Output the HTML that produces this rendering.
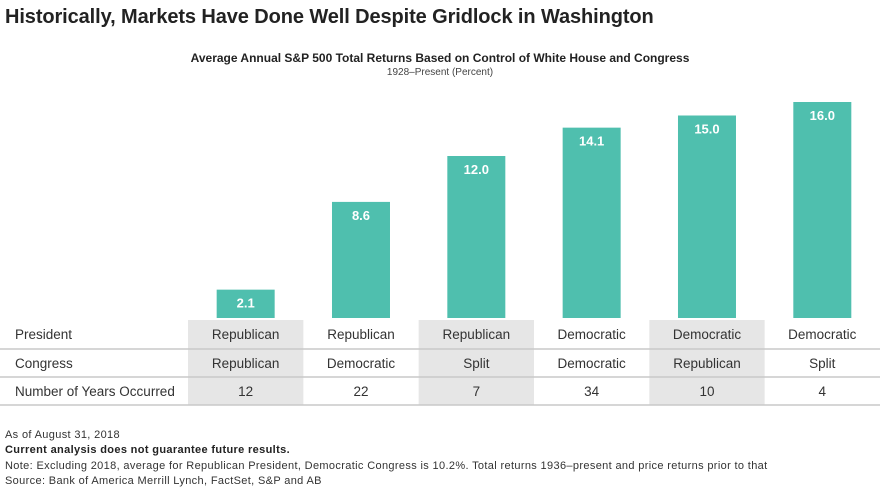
<!DOCTYPE html>
<html><head><meta charset="utf-8"><style>
body{margin:0;width:880px;height:489px;background:#fff;font-family:"Liberation Sans",sans-serif;color:#333;position:relative;overflow:hidden}
.abs{position:absolute}
</style></head><body>
<div class="abs" style="left:5px;top:6px;font-size:20px;font-weight:bold;color:#222;letter-spacing:-0.1px">Historically, Markets Have Done Well Despite Gridlock in Washington</div>
<div class="abs" style="left:0;width:880px;top:51px;text-align:center;font-size:12px;font-weight:bold;color:#222">Average Annual S&amp;P 500 Total Returns Based on Control of White House and Congress</div>
<div class="abs" style="left:0;width:880px;top:67px;text-align:center;font-size:10px;color:#444">1928–Present (Percent)</div>
<svg id="chart" class="abs" style="left:0;top:0" width="880" height="420"></svg>
<div class="abs" style="left:5px;top:428px;font-size:11px;line-height:15.3px;color:#333;letter-spacing:0.35px">
<div>As of August 31, 2018</div>
<div style="font-weight:bold;color:#222">Current analysis does not guarantee future results.</div>
<div>Note: Excluding 2018, average for Republican President, Democratic Congress is 10.2%. Total returns 1936–present and price returns prior to that</div>
<div>Source: Bank of America Merrill Lynch, FactSet, S&amp;P and AB</div>
</div>
<script>
const values=[2.1,8.6,12.0,14.1,15.0,16.0];
const labels=["2.1","8.6","12.0","14.1","15.0","16.0"];
const president=["Republican","Republican","Republican","Democratic","Democratic","Democratic"];
const congress=["Republican","Democratic","Split","Democratic","Republican","Split"];
const years=["12","22","7","34","10","4"];
const NS="http://www.w3.org/2000/svg";
const svg=document.getElementById('chart');
const x0=188,colW=115.33,base=318,scale=13.5,barW=58;
const xc=i=>x0+colW*i+colW/2;
const y=v=>base-v*scale;
function mk(t,a){const e=document.createElementNS(NS,t);for(const k in a)e.setAttribute(k,a[k]);svg.appendChild(e);return e;}
for(let i=0;i<6;i+=2){
 const r=mk('rect',{x:x0+colW*i,y:320,width:colW,height:85,fill:'#e6e6e6'});
 
 
}
[349,377,405].forEach((ly,j)=>{
 const l=mk('line',{x1:0,x2:880,y1:ly,y2:ly,stroke:'#c8c8c8','stroke-width':1.5});
 
 
});
values.forEach((v,i)=>{
 const b=mk('rect',{x:xc(i)-barW/2,y:y(v),width:barW,height:base-y(v),fill:'#4fbfae'});
 
 
 const t=mk('text',{x:xc(i),y:y(v)+18,'text-anchor':'middle','font-size':13,'font-weight':'bold',fill:'#fff'});
 t.textContent=labels[i];
 
 
});
const rows=[["President",president,339],["Congress",congress,368],["Number of Years Occurred",years,396]];
rows.forEach(r=>{
 const h=mk('text',{x:15,y:r[2],'font-size':13.5,fill:'#333'});
 h.textContent=r[0];
 
 
 r[1].forEach((s,i)=>{
  const t=mk('text',{x:xc(i),y:r[2],'text-anchor':'middle','font-size':13.5,fill:'#333'});
  t.textContent=s;
  
  
 });
});
</script>
</body></html>
